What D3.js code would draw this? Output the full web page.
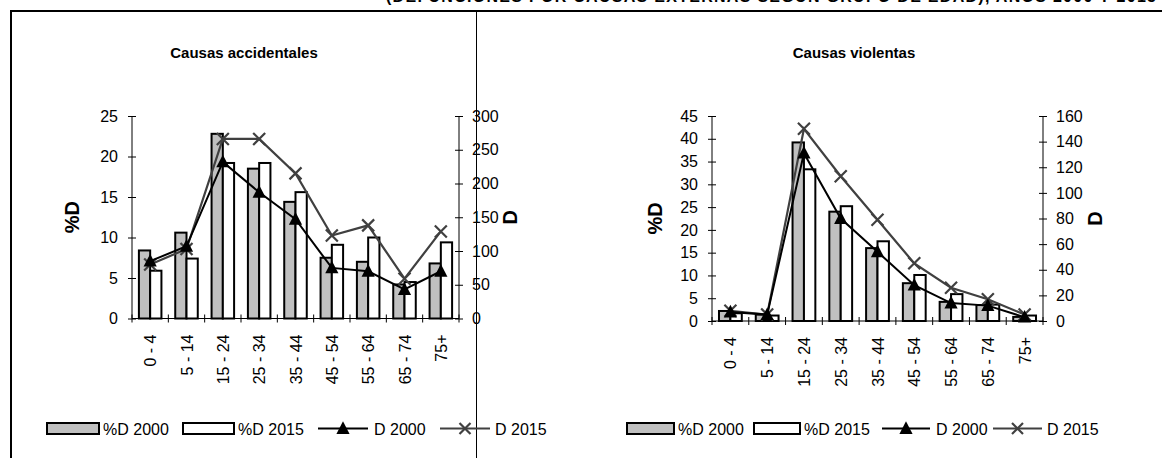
<!DOCTYPE html>
<html><head><meta charset="utf-8">
<script src="https://cdn.jsdelivr.net/npm/d3@7"></script>
<style>
body{margin:0;background:#fff;}
svg{display:block;font-family:Arial,"Liberation Sans",sans-serif;}
</style></head><body>
<svg id="c" width="1162" height="458"></svg>
<script>
// Age groups
const categories = ["0 - 4","5 - 14","15 - 24","25 - 34","35 - 44","45 - 54","55 - 64","65 - 74","75+"];

// Accidental causes: share of deaths (%D) and deaths (D)
const accPct2000 = [8.4, 10.6, 22.8, 18.5, 14.4, 7.5, 7.0, 4.2, 6.8];
const accPct2015 = [5.9, 7.4, 19.2, 19.2, 15.6, 9.1, 10.0, 4.5, 9.4];
const accD2000 = [85, 107, 232, 187, 147, 75, 70, 43, 70];
const accD2015 = [80, 103, 266, 266, 215, 123, 138, 59, 129];
const accPctTicks = [0, 5, 10, 15, 20, 25];
const accDTicks = [0, 50, 100, 150, 200, 250, 300];

// Violent causes
const vioPct2000 = [2.2, 1.4, 39.2, 24.0, 16.0, 8.3, 4.2, 3.5, 0.9];
const vioPct2015 = [1.7, 1.2, 33.3, 25.2, 17.5, 10.1, 5.9, 3.6, 1.2];
const vioD2000 = [7, 5, 131, 80, 54, 28, 14, 12, 3];
const vioD2015 = [8, 5, 150, 113, 79, 45, 26, 17, 5];
const vioPctTicks = [0, 5, 10, 15, 20, 25, 30, 35, 40, 45];
const vioDTicks = [0, 20, 40, 60, 80, 100, 120, 140, 160];

const legendLabels = ["%D 2000", "%D 2015", "D 2000", "D 2015"];

const svg = d3.select("#c");
const GRAY = "#c0c0c0", LINE2 = "#404040";
const FONT = "Arial, 'Liberation Sans', sans-serif";

// Frame around the two panels
svg.append("line").attr("x1", 10).attr("x2", 1162).attr("y1", 11).attr("y2", 11)
  .attr("stroke", "#000").attr("stroke-width", 2);
svg.append("line").attr("x1", 11).attr("x2", 11).attr("y1", 10).attr("y2", 458)
  .attr("stroke", "#000").attr("stroke-width", 2);
svg.append("line").attr("x1", 476.5).attr("x2", 476.5).attr("y1", 11).attr("y2", 458)
  .attr("stroke", "#000").attr("stroke-width", 1);

// Heading running above the panels
svg.append("text").attr("x", 386).attr("y", 2).attr("font-size", 16).attr("font-weight", "bold")
  .attr("textLength", 770)
  .text("(DEFUNCIONES POR CAUSAS EXTERNAS SEGÚN GRUPO DE EDAD), AÑOS 2000 Y 2015");

function triangle(g, cx, cy, s) {
  g.append("path")
    .attr("d", `M${cx},${cy - s * 0.6}L${cx + s * 0.55},${cy + s * 0.45}L${cx - s * 0.55},${cy + s * 0.45}Z`)
    .attr("fill", "#000");
}
function cross(g, cx, cy, s, color) {
  g.append("path")
    .attr("d", `M${cx - s},${cy - s}L${cx + s},${cy + s}M${cx - s},${cy + s}L${cx + s},${cy - s}`)
    .attr("stroke", color).attr("stroke-width", 2.2).attr("fill", "none");
}

function drawPanel(o) {
  const g = svg.append("g");
  const x = d3.scaleBand().domain(categories).range([o.x0, o.x1]).paddingInner(0).paddingOuter(0);
  const yL = d3.scaleLinear().domain([0, o.pctTicks[o.pctTicks.length - 1]]).range([o.yb, o.yt]);
  const yR = d3.scaleLinear().domain([0, o.dTicks[o.dTicks.length - 1]]).range([o.yb, o.yt]);
  const bw = x.bandwidth();
  const barW = bw * 0.31;
  const cx = c => x(c) + bw / 2;

  // Title
  g.append("text").attr("x", o.titleX).attr("y", 58).attr("text-anchor", "middle")
    .attr("font-size", 15).attr("font-weight", "bold").text(o.title);

  // Bars
  g.selectAll(".b0").data(categories).join("rect")
    .attr("x", c => cx(c) - barW).attr("width", barW)
    .attr("y", (c, i) => yL(o.pct2000[i])).attr("height", (c, i) => yL(0) - yL(o.pct2000[i]))
    .attr("fill", GRAY).attr("stroke", "#000").attr("stroke-width", 2);
  g.selectAll(".b1").data(categories).join("rect")
    .attr("x", c => cx(c)).attr("width", barW)
    .attr("y", (c, i) => yL(o.pct2015[i])).attr("height", (c, i) => yL(0) - yL(o.pct2015[i]))
    .attr("fill", "#fff").attr("stroke", "#000").attr("stroke-width", 2);

  // Axes
  const axL = g.append("g").attr("transform", `translate(${o.x0},0)`)
    .call(d3.axisLeft(yL).tickValues(o.pctTicks).tickSize(4).tickPadding(10));
  const axR = g.append("g").attr("transform", `translate(${o.x1},0)`)
    .call(d3.axisRight(yR).tickValues(o.dTicks).tickSize(4).tickPadding(9));
  [axL, axR].forEach(a => {
    a.select(".domain").remove();
    a.append("line").attr("y1", o.yt).attr("y2", o.yb).attr("stroke", "#000");
    a.selectAll(".tick line").attr("x1", -4).attr("x2", 4).attr("stroke", "#000");
    a.selectAll(".tick text").attr("font-size", 16).attr("fill", "#000").attr("font-family", FONT);
  });

  // Category axis with boundary ticks
  const ax = g.append("g");
  ax.append("line").attr("x1", o.x0).attr("x2", o.x1).attr("y1", o.yb).attr("y2", o.yb).attr("stroke", "#000");
  const bounds = categories.map(c => x(c)).concat([o.x1]);
  ax.selectAll(".bt").data(bounds).join("line")
    .attr("x1", d => d).attr("x2", d => d).attr("y1", o.yb - 4).attr("y2", o.yb + 4).attr("stroke", "#000");
  ax.selectAll(".lb").data(categories).join("text")
    .attr("transform", c => `translate(${cx(c) + 6},${o.yb + 16}) rotate(-90)`)
    .attr("text-anchor", "end").attr("font-size", 16).text(c => c);

  // Lines
  const line = d3.line().x((v, i) => cx(categories[i])).y(v => yR(v));
  g.append("path").datum(o.d2015).attr("d", line).attr("fill", "none")
    .attr("stroke", LINE2).attr("stroke-width", 2.2);
  o.d2015.forEach((v, i) => cross(g, cx(categories[i]), yR(v), 6, LINE2));
  g.append("path").datum(o.d2000).attr("d", line).attr("fill", "none")
    .attr("stroke", "#000").attr("stroke-width", 2);
  o.d2000.forEach((v, i) => triangle(g, cx(categories[i]), yR(v), 12));

  // Axis titles
  g.append("text").attr("transform", `translate(${o.pctTitleX},${(o.yt + o.yb) / 2}) rotate(-90)`)
    .attr("text-anchor", "middle").attr("font-size", 20).attr("font-weight", "bold").text("%D");
  g.append("text").attr("transform", `translate(${o.dTitleX},${(o.yt + o.yb) / 2}) rotate(-90)`)
    .attr("text-anchor", "middle").attr("font-size", 20).attr("font-weight", "bold").text("D");

  // Legend
  const L = o.legend, ly = 428.5;
  const lg = g.append("g").attr("font-size", 16);
  lg.append("rect").attr("x", L[0]).attr("y", ly - 5.5).attr("width", L[1]).attr("height", 11)
    .attr("fill", GRAY).attr("stroke", "#000").attr("stroke-width", 2);
  lg.append("text").attr("x", L[0] + L[1] + 4).attr("y", ly + 6).text(legendLabels[0]);
  lg.append("rect").attr("x", L[2]).attr("y", ly - 5.5).attr("width", L[3]).attr("height", 11)
    .attr("fill", "#fff").attr("stroke", "#000").attr("stroke-width", 2);
  lg.append("text").attr("x", L[2] + L[3] + 4).attr("y", ly + 6).text(legendLabels[1]);
  lg.append("line").attr("x1", L[4]).attr("x2", L[4] + L[5]).attr("y1", ly).attr("y2", ly)
    .attr("stroke", "#000").attr("stroke-width", 2);
  triangle(lg, L[4] + L[5] / 2, ly, 12);
  lg.append("text").attr("x", L[4] + L[5] + 6).attr("y", ly + 6).text(legendLabels[2]);
  lg.append("line").attr("x1", L[6]).attr("x2", L[6] + L[7]).attr("y1", ly).attr("y2", ly)
    .attr("stroke", LINE2).attr("stroke-width", 2.2);
  cross(lg, L[6] + L[7] / 2, ly, 5.5, LINE2);
  lg.append("text").attr("x", L[6] + L[7] + 5).attr("y", ly + 6).text(legendLabels[3]);
}

drawPanel({
  title: "Causas accidentales", titleX: 244,
  x0: 132, x1: 459, yt: 116, yb: 318.5,
  pct2000: accPct2000, pct2015: accPct2015, d2000: accD2000, d2015: accD2015,
  pctTicks: accPctTicks, dTicks: accDTicks,
  pctTitleX: 79, dTitleX: 517,
  legend: [47, 52, 183, 51, 318, 50, 440, 50]
});
drawPanel({
  title: "Causas violentas", titleX: 854,
  x0: 712, x1: 1043, yt: 116, yb: 321,
  pct2000: vioPct2000, pct2015: vioPct2015, d2000: vioD2000, d2015: vioD2015,
  pctTicks: vioPctTicks, dTicks: vioDTicks,
  pctTitleX: 662, dTitleX: 1102,
  legend: [627, 47, 754, 46, 882, 48, 993, 49]
});
</script>
</body></html>
